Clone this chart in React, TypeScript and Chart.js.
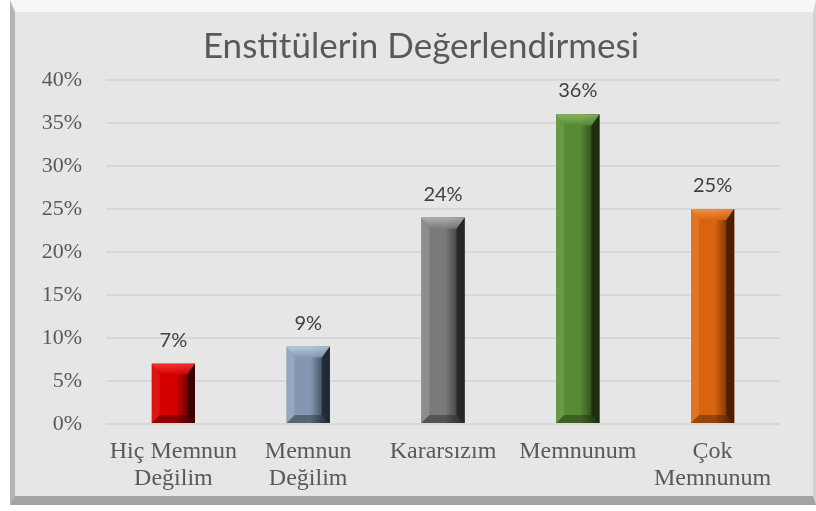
import React, { useEffect, useRef } from "react";
import { Chart, registerables } from "chart.js";

Chart.register(...registerables);

const categories: string[][] = [
  ["Hiç Memnun", "Değilim"],
  ["Memnun", "Değilim"],
  ["Kararsızım"],
  ["Memnunum"],
  ["Çok", "Memnunum"],
];
const values: number[] = [0.07, 0.09, 0.24, 0.36, 0.25];
const barColors: string[] = ["#d40000", "#8597b0", "#7a7a7a", "#588a36", "#d9640f"];
const lightColors: string[] = ["#ff3a3a", "#c0d2e6", "#b8b8b8", "#8cc060", "#f59a50"];
const darkColors: string[] = ["#3a0000", "#1e2834", "#262626", "#1c2e10", "#4a1e00"];
const titleText = "Enstitülerin Değerlendirmesi";

const titlePlugin = {
  id: "customTitle",
  afterDraw(chart: any) {
    const ctx = chart.ctx;
    ctx.save();
    ctx.fillStyle = "#595959";
    ctx.font = "35px Lato";
    ctx.textAlign = "center";
    ctx.textBaseline = "middle";
    ctx.fillText(titleText, chart.width / 2 + 13, 47);
    ctx.restore();
  },
};

const bevelPlugin = {
  id: "bevel",
  afterDatasetsDraw(chart: any) {
    const ctx = chart.ctx;
    const meta = chart.getDatasetMeta(0);
    meta.data.forEach((el: any, i: number) => {
      const { x, y, base, width } = el.getProps(["x", "y", "base", "width"], true);
      const l = x - width / 2;
      const r = x + width / 2;
      const t = y;
      const b = base;
      const sv = 8;
      const tv = Math.min(11, (b - t) / 2);
      const bv = Math.min(8, (b - t) / 2);
      ctx.save();
      const g = ctx.createLinearGradient(l, 0, r, 0);
      g.addColorStop(0, barColors[i]);
      g.addColorStop(0.55, barColors[i]);
      g.addColorStop(1, darkColors[i]);
      ctx.fillStyle = g;
      ctx.fillRect(l, t, width, b - t);
      ctx.globalAlpha = 0.3;
      ctx.fillStyle = lightColors[i];
      ctx.beginPath();
      ctx.moveTo(l, t); ctx.lineTo(l + sv, t + tv); ctx.lineTo(l + sv, b - bv); ctx.lineTo(l, b); ctx.closePath();
      ctx.fill();
      ctx.globalAlpha = 0.9;
      ctx.fillStyle = darkColors[i];
      ctx.beginPath();
      ctx.moveTo(r, t); ctx.lineTo(r - sv, t + tv); ctx.lineTo(r - sv, b - bv); ctx.lineTo(r, b); ctx.closePath();
      ctx.fill();
      ctx.globalAlpha = 0.85;
      const tg = ctx.createLinearGradient(0, t, 0, t + tv);
      tg.addColorStop(0, lightColors[i]);
      tg.addColorStop(1, barColors[i]);
      ctx.fillStyle = tg;
      ctx.beginPath();
      ctx.moveTo(l, t); ctx.lineTo(r, t); ctx.lineTo(r - sv, t + tv); ctx.lineTo(l + sv, t + tv); ctx.closePath();
      ctx.fill();
      ctx.globalAlpha = 0.45;
      ctx.fillStyle = darkColors[i];
      ctx.beginPath();
      ctx.moveTo(l, b); ctx.lineTo(r, b); ctx.lineTo(r - sv, b - bv); ctx.lineTo(l + sv, b - bv); ctx.closePath();
      ctx.fill();
      ctx.restore();
      ctx.save();
      ctx.fillStyle = "#404040";
      ctx.font = "20px Lato";
      ctx.textAlign = "center";
      ctx.textBaseline = "alphabetic";
      ctx.fillText(Math.round(values[i] * 100) + "%", x, t - 17);
      ctx.restore();
    });
  },
};

export default function App() {
  const ref = useRef<HTMLCanvasElement>(null);
  useEffect(() => {
    const chart = new Chart(ref.current!, {
      type: "bar",
      data: {
        labels: categories,
        datasets: [
          {
            data: values,
            backgroundColor: barColors,
            barPercentage: 0.32,
            categoryPercentage: 1,
          },
        ],
      },
      options: {
        animation: false,
        responsive: false,
        layout: { padding: { left: 20, right: 36, top: 80, bottom: 7 } },
        plugins: {
          legend: { display: false },
          tooltip: { enabled: false },
          title: { display: false },
        },
        scales: {
          x: {
            grid: { display: false, drawTicks: false },
            border: { display: false },
            ticks: {
              color: "#595959",
              font: { family: "Liberation Serif", size: 24, lineHeight: 1.1 },
              padding: 15,
              maxRotation: 0,
              autoSkip: false,
            },
            afterFit: (s: any) => { s.height = 80; },
          },
          y: {
            min: 0,
            max: 0.4,
            grid: { color: "#d8d8d8", lineWidth: 2, drawTicks: false },
            border: { display: false },
            ticks: {
              stepSize: 0.05,
              color: "#595959",
              font: { family: "Liberation Serif", size: 22 },
              padding: 24,
              callback: (v: any) => Math.round(Number(v) * 100) + "%",
            },
            afterFit: (s: any) => { s.width = 86; },
          },
        },
      },
      plugins: [bevelPlugin, titlePlugin],
    });
    return () => chart.destroy();
  }, []);
  return (
    <div style={{ position: "fixed", left: 0, top: 0, width: 816, height: 511, background: "#ffffff" }}>
      <div
        style={{
          position: "absolute",
          left: 10,
          top: 0,
          width: 806,
          height: 505,
          boxSizing: "border-box",
          background: "#e6e6e6",
          borderStyle: "solid",
          borderWidth: "12px 3px 9px 5px",
          borderColor: "#f7f7f7 #d2d2d2 #a4a4a4 #b4b4b4",
        }}
      />
      <canvas ref={ref} width={816} height={511} style={{ position: "absolute", left: 0, top: 0 }} />
    </div>
  );
}
